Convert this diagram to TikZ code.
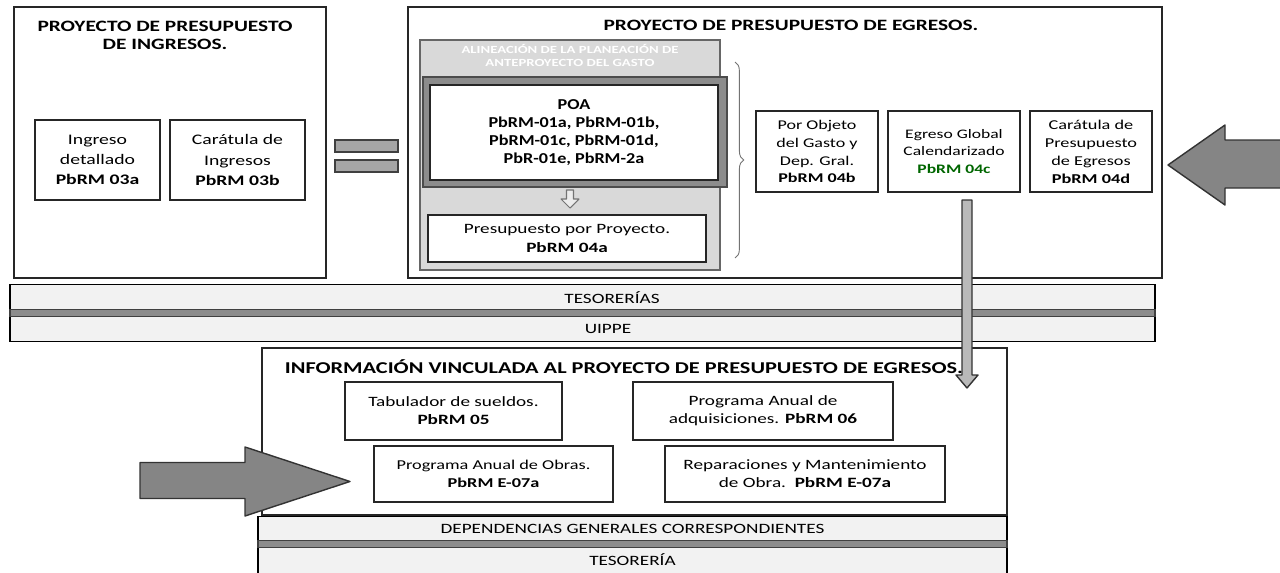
\documentclass[tikz,border=0pt]{standalone}
\usepackage{fontspec}
\setmainfont{Carlito}[FakeStretch=1.35]
\newfontfamily\poafont{Carlito}[FakeStretch=1.2]
\usetikzlibrary{calc,decorations.pathreplacing}
\pgfdeclarelayer{edgelayer}
\pgfdeclarelayer{nodelayer}
\pgfsetlayers{nodelayer,edgelayer,main}
\tikzset{font=\fontsize{8.1}{10.3}\selectfont}
\tikzstyle{none}=[inner sep=0pt,align=center]
\tikzstyle{frame}=[draw=black!85,line width=1pt,fill=white,inner sep=0pt]
\tikzstyle{doc}=[draw=black!85,line width=1pt,fill=white,align=center,inner sep=0pt]
\tikzstyle{band}=[draw=black,line width=1pt,fill=gray!10,inner sep=0pt]
\tikzstyle{sep}=[draw=black!75,line width=0.6pt,fill=black!45,inner sep=0pt]
\tikzstyle{heading}=[inner sep=0pt,align=center,font=\fontsize{9}{10.3}\selectfont\bfseries]
\tikzstyle{fat}=[draw=black!80,line width=0.8pt,fill=black!48,line join=round]
\newcommand{\code}[1]{\textbf{#1}}

\begin{document}
\begin{tikzpicture}
	\useasboundingbox (0,0) rectangle (25.6,-11.46);
	\begin{pgfonlayer}{nodelayer}
		% ingresos
		\node [style=frame, minimum width=6.24cm, minimum height=5.42cm] (0) at (3.4, -2.85) {};
		\node [style=heading] (1) at (3.3, -0.7) {PROYECTO DE PRESUPUESTO\\DE INGRESOS.};
		\node [style=doc, minimum width=2.5cm, minimum height=1.6cm, font=\fontsize{8.3}{11.4}\selectfont] (2) at (1.95, -3.2) {Ingreso\\detallado\\\code{PbRM 03a}};
		\node [style=doc, minimum width=2.7cm, minimum height=1.6cm, font=\fontsize{8.3}{11.4}\selectfont] (3) at (4.75, -3.2) {Carátula de\\Ingresos\\\code{PbRM 03b}};
		\node [style=sep, fill=black!35, minimum width=1.26cm, minimum height=0.24cm] (4) at (7.33, -2.92) {};
		\node [style=sep, fill=black!35, minimum width=1.26cm, minimum height=0.24cm] (5) at (7.33, -3.32) {};
		% egresos
		\node [style=frame, minimum width=15.08cm, minimum height=5.42cm] (6) at (15.7, -2.85) {};
		\node [style=heading] (7) at (15.82, -0.5) {PROYECTO DE PRESUPUESTO DE EGRESOS.};
		\node [draw=black!60, line width=1pt, fill=gray!30, minimum width=6cm, minimum height=4.6cm] (8) at (11.4, -3.1) {};
		\node [style=none, text=white, font=\fontsize{6.2}{7.4}\selectfont\bfseries] (9) at (11.4, -1.1) {ALINEACIÓN DE LA PLANEACIÓN DE\\ANTEPROYECTO DEL GASTO};
		\node [draw=black!70, line width=0.8pt, fill=black!45, minimum width=6.08cm, minimum height=2.2cm] (10) at (11.5, -2.64) {};
		\node [style=doc, minimum width=5.76cm, minimum height=1.9cm, font=\poafont\fontsize{8.6}{10.2}\selectfont\bfseries] (11) at (11.48, -2.65) {POA\\PbRM-01a, PbRM-01b,\\PbRM-01c, PbRM-01d,\\PbR-01e, PbRM-2a};
		\node [style=doc, minimum width=5.56cm, minimum height=0.94cm] (13) at (11.34, -4.77) {Presupuesto por Proyecto.\\\code{PbRM 04a}};
		\node [style=doc, minimum width=2.44cm, minimum height=1.62cm, font=\fontsize{7.6}{10.2}\selectfont] (14) at (16.34, -3.03) {Por Objeto\\del Gasto y\\Dep. Gral.\\\code{PbRM 04b}};
		\node [style=doc, minimum width=2.64cm, minimum height=1.62cm, font=\fontsize{7.4}{10.2}\selectfont] (15) at (19.08, -3.03) {Egreso Global\\Calendarizado\\\textcolor{green!40!black}{\code{PbRM 04c}}};
		\node [style=doc, minimum width=2.44cm, minimum height=1.62cm, font=\fontsize{7.7}{10.2}\selectfont] (16) at (21.82, -3.03) {Carátula de\\Presupuesto\\de Egresos\\\code{PbRM 04d}};
		% unidades
		\node [style=band, minimum width=22.9cm, minimum height=0.52cm] (20) at (11.65, -5.95) {};
		\node [style=band, minimum width=22.9cm, minimum height=0.52cm] (22) at (11.65, -6.57) {};
		\node [style=sep, minimum width=22.9cm, minimum height=0.14cm] (21) at (11.65, -6.26) {};
		\node [style=none] (23) at (12.24, -5.95) {TESORERÍAS};
		\node [style=none] (24) at (12.16, -6.57) {UIPPE};
		% informacion vinculada
		\node [style=frame, minimum width=14.9cm, minimum height=3.34cm] (30) at (12.69, -8.63) {};
		\node [style=heading, font=\fontsize{9.4}{11}\selectfont\bfseries] (31) at (12.48, -7.34) {INFORMACIÓN VINCULADA AL PROYECTO DE PRESUPUESTO DE EGRESOS.};
		\node [style=doc, minimum width=4.34cm, minimum height=1.16cm] (32) at (9.07, -8.22) {Tabulador de sueldos.\\\code{PbRM 05}};
		\node [style=doc, minimum width=5.2cm, minimum height=1.16cm] (33) at (15.26, -8.22) {Programa Anual de\\adquisiciones. \code{PbRM 06}};
		\node [style=doc, minimum width=4.78cm, minimum height=1.12cm, font=\fontsize{7.7}{10.3}\selectfont] (34) at (9.87, -9.48) {Programa Anual de Obras.\\\code{PbRM E-07a}};
		\node [style=doc, minimum width=5.6cm, minimum height=1.12cm] (35) at (16.1, -9.48) {Reparaciones y Mantenimiento\\de Obra.\ \ \code{PbRM E-07a}};
		\node [style=band, minimum width=14.98cm, minimum height=0.5cm] (36) at (12.65, -10.58) {};
		\node [style=band, minimum width=14.98cm, minimum height=0.56cm] (38) at (12.65, -11.22) {};
		\node [style=sep, minimum width=14.98cm, minimum height=0.14cm] (37) at (12.65, -10.88) {};
		\node [style=none] (39) at (12.65, -10.58) {DEPENDENCIAS GENERALES CORRESPONDIENTES};
		\node [style=none] (40) at (12.65, -11.2) {TESORERÍA};
		\coordinate (17) at (19.34, -4.0);
		\coordinate (18) at (19.34, -7.76);
		\coordinate (12) at (11.4, -3.8);
	\end{pgfonlayer}
	\begin{pgfonlayer}{edgelayer}
		\draw [draw=black!55, line width=0.5pt, decorate, decoration={brace, amplitude=5pt}] (14.7, -1.24) to (14.7, -5.16);
		\draw [draw=black!55, fill=gray!15, line width=0.6pt, line join=round] ($(12)+(-0.07,0)$) -- ($(12)+(0.07,0)$) -- ($(12)+(0.07,-0.18)$) -- ($(12)+(0.18,-0.18)$) -- ($(12)+(0,-0.36)$) -- ($(12)+(-0.18,-0.18)$) -- ($(12)+(-0.07,-0.18)$) -- cycle;
		\draw [style=fat, fill=gray!55] ($(17)+(-0.1,0)$) -- ($(17)+(0.1,0)$) -- ($(18)+(0.1,0.26)$) -- ($(18)+(0.22,0.26)$) -- (18) -- ($(18)+(-0.22,0.26)$) -- ($(18)+(-0.1,0.26)$) -- cycle;
		\draw [style=fat] (25.7, -2.8) -- (24.5, -2.8) -- (24.5, -2.5) -- (23.36, -3.3) -- (24.5, -4.1) -- (24.5, -3.76) -- (25.7, -3.76) -- cycle;
		\draw [style=fat] (2.8, -9.25) -- (4.9, -9.25) -- (4.9, -8.94) -- (7.0, -9.63) -- (4.9, -10.32) -- (4.9, -9.97) -- (2.8, -9.97) -- cycle;
	\end{pgfonlayer}
\end{tikzpicture}
\end{document}
